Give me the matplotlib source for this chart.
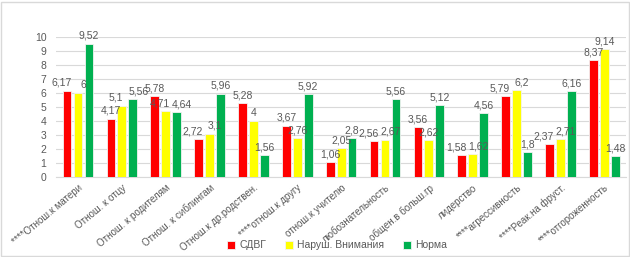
import matplotlib.pyplot as plt
import numpy as np

plt.rcParams["font.family"] = ["Liberation Sans", "DejaVu Sans"]

# Категории и значения трёх групп
categories = ["****Отнош.к матери", "Отнош. к отцу", "Отнош. к родителям",
              "Отнош. к сиблингам", "Отнош.к др.родствен.", "****отнош.к другу",
              "отнош.к учителю", "любознательность", "общен.в больш.гр",
              "лидерство", "****агрессивность", "****Реак.на фруст.",
              "****отгороженность"]
sdvg = [6.17, 4.17, 5.78, 2.72, 5.28, 3.67, 1.06, 2.56, 3.56, 1.58, 5.79, 2.37, 8.37]
narush = [6, 5.1, 4.71, 3.1, 4, 2.76, 2.05, 2.67, 2.62, 1.62, 6.2, 2.71, 9.14]
norma = [9.52, 5.56, 4.64, 5.96, 1.56, 5.92, 2.8, 5.56, 5.12, 4.56, 1.8, 6.16, 1.48]

series = [("СДВГ", sdvg, "#FF0000"),
          ("Наруш. Внимания", narush, "#FFFF00"),
          ("Норма", norma, "#00B050")]

fig = plt.figure(figsize=(6.3, 2.57), dpi=100)
ax = fig.add_axes([0.089, 0.311, 0.905, 0.545])

x = np.arange(len(categories))
step = 0.25
width = 0.2
gray = "#595959"

for i, (name, vals, col) in enumerate(series):
    pos = x + (i - 1) * step
    ax.bar(pos, vals, width, color=col, edgecolor="#F2F2F2", linewidth=0.6,
           label=name, zorder=3)

# подписи данных: если соседние значения близки, раздвигаем подписи в стороны
for j in range(len(categories)):
    vals = [s[1][j] for s in series]
    shifts = [0, 0, 0]
    for k in range(2):
        if abs(vals[k] - vals[k + 1]) < 0.6:
            shifts[k] -= 4
            shifts[k + 1] += 4
    for k, v in enumerate(vals):
        ax.annotate(f"{v:g}".replace(".", ","), (x[j] + (k - 1) * step, v),
                    xytext=(shifts[k], 2), textcoords="offset points",
                    ha="center", va="bottom", fontsize=7.5, color=gray)

ax.set_xlim(-0.5, len(categories) - 0.5)
ax.set_ylim(0, 10)
ax.set_yticks(range(0, 11))
ax.yaxis.grid(True, color="#D9D9D9", linewidth=0.8, zorder=0)
ax.tick_params(axis="y", length=0, labelsize=7.5, colors=gray, pad=7)
ax.tick_params(axis="x", length=0, pad=4)
ax.set_xticks(x)
ax.set_xticklabels(categories, rotation=40, ha="right", rotation_mode="anchor",
                   fontsize=7, color=gray)
for s in ["top", "right", "left"]:
    ax.spines[s].set_visible(False)
ax.spines["bottom"].set_color("#D9D9D9")

fig.legend(loc="lower center", bbox_to_anchor=(0.535, -0.01), ncol=3, frameon=False,
           fontsize=7.5, labelcolor=gray, handlelength=0.8, handleheight=0.8,
           columnspacing=1.8, handletextpad=0.4)

fig.patches.append(plt.Rectangle((0.002, 0.004), 0.996, 0.99, transform=fig.transFigure,
                                 fill=False, edgecolor="#D9D9D9", linewidth=1))

fig.savefig("out.png", dpi=100)
